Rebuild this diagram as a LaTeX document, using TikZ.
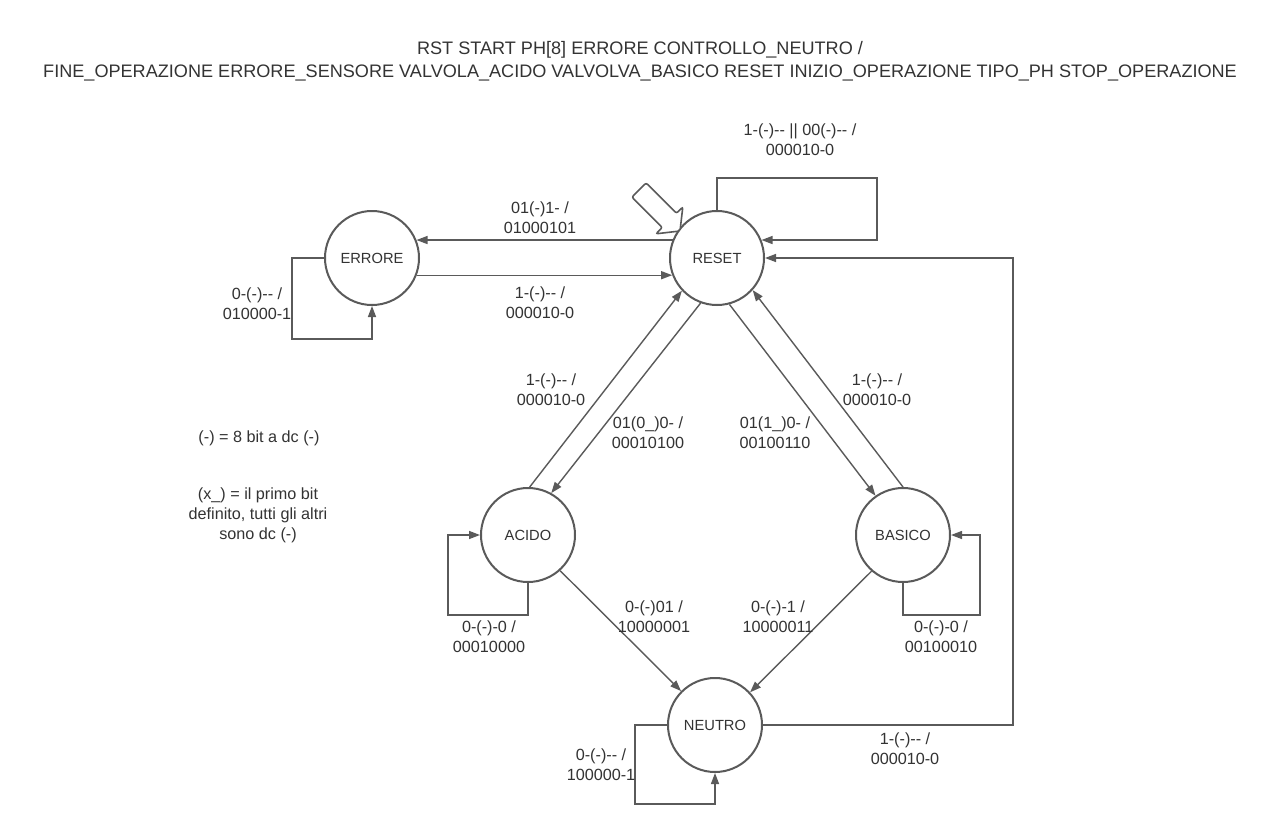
\documentclass[tikz,border=0pt]{standalone}
\usepackage{fontspec}
\setmainfont{Liberation Sans}[Ligatures=TeXOff]
\usetikzlibrary{arrows.meta,calc}
\definecolor{ln}{HTML}{5A5A5A}
\definecolor{tx}{HTML}{333333}
\begin{document}
\begin{tikzpicture}[x=1pt,y=-1pt,
  state/.style={circle,draw=ln,line width=2pt,minimum size=94pt,inner sep=0pt,text=tx,font=\fontsize{14.7}{16}\selectfont},
  arr/.style={draw=ln,line width=1.4pt,-{Triangle[length=11pt,width=8pt]}},
  lbl/.style={align=center,text=tx,font=\fontsize{16.2}{20}\selectfont,inner sep=0pt},
  ttl/.style={align=center,text=tx,font=\fontsize{18.1}{23}\selectfont,inner sep=0pt}]
\useasboundingbox[fill=white] (0,0) rectangle (1280,835);

\node[ttl] (title) at (640,61) {RST START PH[8] ERRORE CONTROLLO\_NEUTRO /\\FINE\_OPERAZIONE ERRORE\_SENSORE VALVOLA\_ACIDO VALVOLVA\_BASICO RESET INIZIO\_OPERAZIONE TIPO\_PH STOP\_OPERAZIONE};

\node[state] (errore) at (372,258) {ERRORE};
\node[state] (reset) at (717,258) {RESET};
\node[state] (acido) at (528,535) {ACIDO};
\node[state] (basico) at (903,535) {BASICO};
\node[state] (neutro) at (715,725) {NEUTRO};

% start arrow
\draw[ln,line width=1.6pt,fill=white,rounded corners=2pt]
  (646.1,182.9) -- (676.5,213.3) -- (682.8,207.0) -- (680.0,231.0) -- (656.0,233.8) -- (662.3,227.5) -- (631.9,197.1) -- cycle;

% horizontal edges
\draw[arr] (reset.158) -- (errore.22);
\draw[arr] (errore.-21) -- (reset.201);
% self loops
\draw[arr] (errore.west) -- ++(-32,0) |- ($(errore.south)+(0,33)$) -- (errore.south);
\draw[arr] (reset.north) -- ++(0,-32) -- ++(160,0) |- (reset.22);
\draw[arr] (acido.south) -- ++(0,32) -| ($(acido.west)+(-32,0)$) -- (acido.west);
\draw[arr] (basico.south) -- ++(0,32) -| ($(basico.east)+(29,0)$) -- (basico.east);
\draw[arr] (neutro.west) -- ++(-32,0) |- ($(neutro.south)+(0,31)$) -- (neutro.south);
% neutro to reset
\draw[arr] (neutro.east) -- ++(250,0) |- (reset.east);
% diagonals
\draw[arr] (acido.88) -- (reset.223);
\draw[arr] (reset.250) -- (acido.61);
\draw[arr] (reset.285) -- (basico.125);
\draw[arr] (basico.90) -- (reset.-42);
\draw[arr] (acido.-48) -- (neutro.135);
\draw[arr] (basico.229) -- (neutro.43);

% labels
\node[lbl] (l1) at (540,218) {01(-)1- /\\01000101};
\node[lbl] (l2) at (540,303) {1-(-)-- /\\000010-0};
\node[lbl] (l3) at (800,140) {1-(-)-- || 00(-)-- /\\000010-0};
\node[lbl] (l4) at (257,304) {0-(-)-- /\\010000-1};
\node[lbl] (l5) at (551,390) {1-(-)-- /\\000010-0};
\node[lbl] (l6) at (648,433) {01(0\_)0- /\\00010100};
\node[lbl] (l7) at (775,433) {01(1\_)0- /\\00100110};
\node[lbl] (l8) at (877,390) {1-(-)-- /\\000010-0};
\node[lbl] (l9) at (654,617) {0-(-)01 /\\10000001};
\node[lbl] (l10) at (778,617) {0-(-)-1 /\\10000011};
\node[lbl] (l11) at (489,637) {0-(-)-0 /\\00010000};
\node[lbl] (l12) at (941,637) {0-(-)-0 /\\00100010};
\node[lbl] (l13) at (601,765) {0-(-)-- /\\100000-1};
\node[lbl] (l14) at (905,749) {1-(-)-- /\\000010-0};
\node[lbl] (n1) at (259,438) {(-) = 8 bit a dc (-)};
\node[lbl] (n2) at (258,515) {(x\_) = il primo bit\\definito, tutti gli altri\\sono dc (-)};
\end{tikzpicture}
\end{document}
